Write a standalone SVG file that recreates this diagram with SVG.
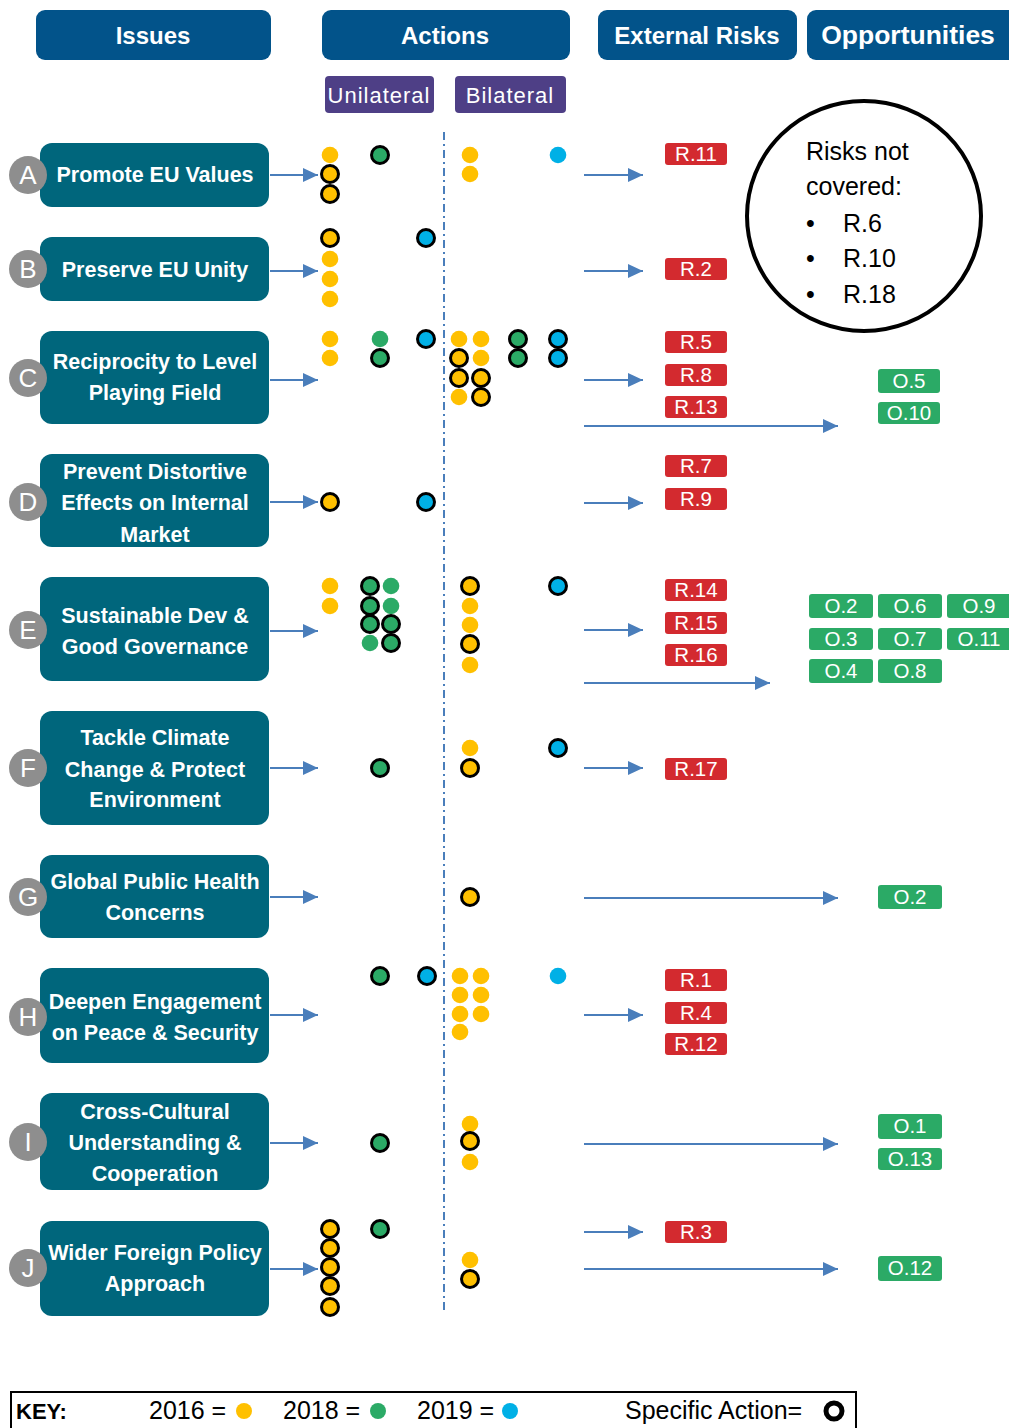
<svg xmlns="http://www.w3.org/2000/svg" width="1009" height="1428" viewBox="0 0 1009 1428">
<style>
text{font-family:"Liberation Sans",Arial,sans-serif}
.hdr{fill:#02538A}
.hdrt{fill:#fff;font-size:24px;font-weight:bold;text-anchor:middle}
.sub{fill:#4E3F86}
.subt{fill:#fff;font-size:22px;text-anchor:middle;letter-spacing:1px}
.node{fill:#00667C}
.nt{fill:#fff;font-size:21.5px;font-weight:bold;text-anchor:middle}
.lc{fill:#8E8E8E}
.lt{fill:#fff;font-size:26px;text-anchor:middle}
.conn{stroke:#4A7EBB;stroke-width:2;fill:none}
.y{fill:#FFC000}
.g{fill:#2BAA66}
.b{fill:#00B0E6}
.s{stroke:#000;stroke-width:3}
.rt{fill:#D32A2F}
.ot{fill:#2BAA66}
.tt{fill:#fff;font-size:20.5px;text-anchor:middle}
.kt{fill:#000;font-size:25px}
</style>
<defs>
<marker id="ah" markerUnits="userSpaceOnUse" markerWidth="15" markerHeight="14" refX="15" refY="7" orient="auto">
<path d="M0,0 L15,7 L0,14 z" fill="#4A7EBB"/>
</marker>
</defs>
<rect width="1009" height="1428" fill="#fff"/>

<g id="headers">
<g id="h-issues"><rect class="hdr" x="36" y="10" width="235" height="50" rx="9"/><text class="hdrt" x="153" y="44">Issues</text></g>
<g id="h-actions"><rect class="hdr" x="322" y="10" width="248" height="50" rx="9"/><text class="hdrt" x="445" y="44">Actions</text></g>
<g id="h-risks"><rect class="hdr" x="598" y="10" width="199" height="50" rx="9"/><text class="hdrt" x="697" y="44">External Risks</text></g>
<g id="h-opps"><rect class="hdr" x="807" y="10" width="212" height="50" rx="9"/><text class="hdrt" x="908" y="44" style="font-size:26.5px">Opportunities</text></g>
<g id="h-uni"><rect class="sub" x="325" y="76" width="109" height="37" rx="4"/><text class="subt" x="379" y="103">Unilateral</text></g>
<g id="h-bi"><rect class="sub" x="455" y="76" width="111" height="37" rx="4"/><text class="subt" x="510" y="103">Bilateral</text></g>
</g>

<g id="connectors">
<line class="conn" x1="444" y1="132" x2="444" y2="1313" stroke-dasharray="8 4 2 4"/>
<line class="conn" x1="270" y1="175" x2="318" y2="175" marker-end="url(#ah)"/>
<line class="conn" x1="270" y1="271" x2="318" y2="271" marker-end="url(#ah)"/>
<line class="conn" x1="270" y1="380" x2="318" y2="380" marker-end="url(#ah)"/>
<line class="conn" x1="270" y1="502" x2="318" y2="502" marker-end="url(#ah)"/>
<line class="conn" x1="270" y1="631" x2="318" y2="631" marker-end="url(#ah)"/>
<line class="conn" x1="270" y1="768" x2="318" y2="768" marker-end="url(#ah)"/>
<line class="conn" x1="270" y1="897" x2="318" y2="897" marker-end="url(#ah)"/>
<line class="conn" x1="270" y1="1015" x2="318" y2="1015" marker-end="url(#ah)"/>
<line class="conn" x1="270" y1="1143" x2="318" y2="1143" marker-end="url(#ah)"/>
<line class="conn" x1="270" y1="1269" x2="318" y2="1269" marker-end="url(#ah)"/>
<line class="conn" x1="584" y1="175" x2="643" y2="175" marker-end="url(#ah)"/>
<line class="conn" x1="584" y1="271" x2="643" y2="271" marker-end="url(#ah)"/>
<line class="conn" x1="584" y1="380" x2="643" y2="380" marker-end="url(#ah)"/>
<line class="conn" x1="584" y1="503" x2="643" y2="503" marker-end="url(#ah)"/>
<line class="conn" x1="584" y1="630" x2="643" y2="630" marker-end="url(#ah)"/>
<line class="conn" x1="584" y1="768" x2="643" y2="768" marker-end="url(#ah)"/>
<line class="conn" x1="584" y1="1015" x2="643" y2="1015" marker-end="url(#ah)"/>
<line class="conn" x1="584" y1="1232" x2="643" y2="1232" marker-end="url(#ah)"/>
<line class="conn" x1="584" y1="426" x2="838" y2="426" marker-end="url(#ah)"/>
<line class="conn" x1="584" y1="683" x2="770" y2="683" marker-end="url(#ah)"/>
<line class="conn" x1="584" y1="898" x2="838" y2="898" marker-end="url(#ah)"/>
<line class="conn" x1="584" y1="1144" x2="838" y2="1144" marker-end="url(#ah)"/>
<line class="conn" x1="584" y1="1269" x2="838" y2="1269" marker-end="url(#ah)"/>
</g>

<g id="node-A"><rect class="node" x="40" y="143" width="229" height="64" rx="12"/><text class="nt" x="155" y="182">Promote EU Values</text><circle class="lc" cx="28" cy="175" r="19"/><text class="lt" x="28" y="184">A</text></g>
<g id="node-B"><rect class="node" x="40" y="237" width="229" height="64" rx="12"/><text class="nt" x="155" y="277">Preserve EU Unity</text><circle class="lc" cx="28" cy="269" r="19"/><text class="lt" x="28" y="278">B</text></g>
<g id="node-C"><rect class="node" x="40" y="331" width="229" height="93" rx="12"/><text class="nt" x="155" y="369">Reciprocity to Level</text><text class="nt" x="155" y="400">Playing Field</text><circle class="lc" cx="28" cy="378" r="19"/><text class="lt" x="28" y="387">C</text></g>
<g id="node-D"><rect class="node" x="40" y="454" width="229" height="93" rx="12"/><text class="nt" x="155" y="479">Prevent Distortive</text><text class="nt" x="155" y="510">Effects on Internal</text><text class="nt" x="155" y="542">Market</text><circle class="lc" cx="28" cy="502" r="19"/><text class="lt" x="28" y="511">D</text></g>
<g id="node-E"><rect class="node" x="40" y="577" width="229" height="104" rx="12"/><text class="nt" x="155" y="623">Sustainable Dev &amp;</text><text class="nt" x="155" y="654">Good Governance</text><circle class="lc" cx="28" cy="630" r="19"/><text class="lt" x="28" y="639">E</text></g>
<g id="node-F"><rect class="node" x="40" y="711" width="229" height="114" rx="12"/><text class="nt" x="155" y="745">Tackle Climate</text><text class="nt" x="155" y="777">Change &amp; Protect</text><text class="nt" x="155" y="807">Environment</text><circle class="lc" cx="28" cy="768" r="19"/><text class="lt" x="28" y="777">F</text></g>
<g id="node-G"><rect class="node" x="40" y="855" width="229" height="83" rx="12"/><text class="nt" x="155" y="889">Global Public Health</text><text class="nt" x="155" y="920">Concerns</text><circle class="lc" cx="28" cy="897" r="19"/><text class="lt" x="28" y="906">G</text></g>
<g id="node-H"><rect class="node" x="40" y="968" width="229" height="95" rx="12"/><text class="nt" x="155" y="1009">Deepen Engagement</text><text class="nt" x="155" y="1040">on Peace &amp; Security</text><circle class="lc" cx="28" cy="1017" r="19"/><text class="lt" x="28" y="1026">H</text></g>
<g id="node-I"><rect class="node" x="40" y="1093" width="229" height="97" rx="12"/><text class="nt" x="155" y="1119">Cross-Cultural</text><text class="nt" x="155" y="1150">Understanding  &amp;</text><text class="nt" x="155" y="1181">Cooperation</text><circle class="lc" cx="28" cy="1142" r="19"/><text class="lt" x="28" y="1151">I</text></g>
<g id="node-J"><rect class="node" x="40" y="1221" width="229" height="95" rx="12"/><text class="nt" x="155" y="1260">Wider Foreign Policy</text><text class="nt" x="155" y="1291">Approach</text><circle class="lc" cx="28" cy="1268" r="19"/><text class="lt" x="28" y="1277">J</text></g>

<g id="dots">
<circle class="y" cx="330" cy="155" r="8.3"/><circle class="y s" cx="330" cy="174" r="8.5"/><circle class="y s" cx="330" cy="194" r="8.5"/>
<circle class="g s" cx="380" cy="155" r="8.5"/>
<circle class="y" cx="470" cy="155" r="8.3"/><circle class="y" cx="470" cy="174" r="8.3"/>
<circle class="b" cx="558" cy="155" r="8.3"/>
<circle class="y s" cx="330" cy="238" r="8.5"/><circle class="y" cx="330" cy="259" r="8.3"/><circle class="y" cx="330" cy="279" r="8.3"/><circle class="y" cx="330" cy="299" r="8.3"/>
<circle class="b s" cx="426" cy="238" r="8.5"/>
<circle class="y" cx="330" cy="339" r="8.3"/><circle class="y" cx="330" cy="358" r="8.3"/>
<circle class="g" cx="380" cy="339" r="8.3"/><circle class="g s" cx="380" cy="358" r="8.5"/>
<circle class="b s" cx="426" cy="339" r="8.5"/>
<circle class="y" cx="459" cy="339" r="8.3"/><circle class="y" cx="481" cy="339" r="8.3"/>
<circle class="y s" cx="459" cy="358" r="8.5"/><circle class="y" cx="481" cy="358" r="8.3"/>
<circle class="y s" cx="459" cy="378" r="8.5"/><circle class="y s" cx="481" cy="378" r="8.5"/>
<circle class="y" cx="459" cy="397" r="8.3"/><circle class="y s" cx="481" cy="397" r="8.5"/>
<circle class="g s" cx="518" cy="339" r="8.5"/><circle class="g s" cx="518" cy="358" r="8.5"/>
<circle class="b s" cx="558" cy="339" r="8.5"/><circle class="b s" cx="558" cy="358" r="8.5"/>
<circle class="y s" cx="330" cy="502" r="8.5"/><circle class="b s" cx="426" cy="502" r="8.5"/>
<circle class="y" cx="330" cy="586" r="8.3"/><circle class="y" cx="330" cy="606" r="8.3"/>
<circle class="g s" cx="370" cy="586" r="8.5"/><circle class="g" cx="391" cy="586" r="8.3"/>
<circle class="g s" cx="370" cy="606" r="8.5"/><circle class="g" cx="391" cy="606" r="8.3"/>
<circle class="g s" cx="370" cy="624" r="8.5"/><circle class="g s" cx="391" cy="624" r="8.5"/>
<circle class="g" cx="370" cy="643" r="8.3"/><circle class="g s" cx="391" cy="643" r="8.5"/>
<circle class="y s" cx="470" cy="586" r="8.5"/><circle class="y" cx="470" cy="606" r="8.3"/><circle class="y" cx="470" cy="625" r="8.3"/><circle class="y s" cx="470" cy="644" r="8.5"/><circle class="y" cx="470" cy="665" r="8.3"/>
<circle class="b s" cx="558" cy="586" r="8.5"/>
<circle class="g s" cx="380" cy="768" r="8.5"/>
<circle class="y" cx="470" cy="748" r="8.3"/><circle class="y s" cx="470" cy="768" r="8.5"/>
<circle class="b s" cx="558" cy="748" r="8.5"/>
<circle class="y s" cx="470" cy="897" r="8.5"/>
<circle class="g s" cx="380" cy="976" r="8.5"/><circle class="b s" cx="427" cy="976" r="8.5"/>
<circle class="y" cx="460" cy="976" r="8.3"/><circle class="y" cx="481" cy="976" r="8.3"/>
<circle class="y" cx="460" cy="995" r="8.3"/><circle class="y" cx="481" cy="995" r="8.3"/>
<circle class="y" cx="460" cy="1014" r="8.3"/><circle class="y" cx="481" cy="1014" r="8.3"/>
<circle class="y" cx="460" cy="1032" r="8.3"/>
<circle class="b" cx="558" cy="976" r="8.3"/>
<circle class="g s" cx="380" cy="1143" r="8.5"/>
<circle class="y" cx="470" cy="1124" r="8.3"/><circle class="y s" cx="470" cy="1141" r="8.5"/><circle class="y" cx="470" cy="1162" r="8.3"/>
<circle class="y s" cx="330" cy="1229" r="8.5"/><circle class="y s" cx="330" cy="1248" r="8.5"/><circle class="y s" cx="330" cy="1267" r="8.5"/><circle class="y s" cx="330" cy="1286" r="8.5"/><circle class="y s" cx="330" cy="1307" r="8.5"/>
<circle class="g s" cx="380" cy="1229" r="8.5"/>
<circle class="y" cx="470" cy="1260" r="8.3"/><circle class="y s" cx="470" cy="1279" r="8.5"/>
</g>

<g id="risks">
<g><rect class="rt" x="665" y="143" width="62" height="22" rx="3"/><text class="tt" x="696" y="161">R.11</text></g>
<g><rect class="rt" x="665" y="258" width="62" height="22" rx="3"/><text class="tt" x="696" y="276">R.2</text></g>
<g><rect class="rt" x="665" y="331" width="62" height="22" rx="3"/><text class="tt" x="696" y="349">R.5</text></g>
<g><rect class="rt" x="665" y="364" width="62" height="22" rx="3"/><text class="tt" x="696" y="382">R.8</text></g>
<g><rect class="rt" x="665" y="396" width="62" height="22" rx="3"/><text class="tt" x="696" y="414">R.13</text></g>
<g><rect class="rt" x="665" y="455" width="62" height="22" rx="3"/><text class="tt" x="696" y="473">R.7</text></g>
<g><rect class="rt" x="665" y="488" width="62" height="22" rx="3"/><text class="tt" x="696" y="506">R.9</text></g>
<g><rect class="rt" x="665" y="579" width="62" height="22" rx="3"/><text class="tt" x="696" y="597">R.14</text></g>
<g><rect class="rt" x="665" y="612" width="62" height="22" rx="3"/><text class="tt" x="696" y="630">R.15</text></g>
<g><rect class="rt" x="665" y="644" width="62" height="22" rx="3"/><text class="tt" x="696" y="662">R.16</text></g>
<g><rect class="rt" x="665" y="758" width="62" height="22" rx="3"/><text class="tt" x="696" y="776">R.17</text></g>
<g><rect class="rt" x="665" y="969" width="62" height="22" rx="3"/><text class="tt" x="696" y="987">R.1</text></g>
<g><rect class="rt" x="665" y="1002" width="62" height="22" rx="3"/><text class="tt" x="696" y="1020">R.4</text></g>
<g><rect class="rt" x="665" y="1033" width="62" height="22" rx="3"/><text class="tt" x="696" y="1051">R.12</text></g>
<g><rect class="rt" x="665" y="1221" width="62" height="22" rx="3"/><text class="tt" x="696" y="1239">R.3</text></g>
</g>

<g id="opportunities">
<g><rect class="ot" x="878" y="369" width="62" height="24" rx="3"/><text class="tt" x="909" y="388">O.5</text></g>
<g><rect class="ot" x="878" y="402" width="62" height="22" rx="3"/><text class="tt" x="909" y="420">O.10</text></g>
<g><rect class="ot" x="809" y="594" width="64" height="24" rx="3"/><text class="tt" x="841" y="613">O.2</text></g>
<g><rect class="ot" x="878" y="594" width="64" height="24" rx="3"/><text class="tt" x="910" y="613">O.6</text></g>
<g><rect class="ot" x="947" y="594" width="64" height="24" rx="3"/><text class="tt" x="979" y="613">O.9</text></g>
<g><rect class="ot" x="809" y="628" width="64" height="22" rx="3"/><text class="tt" x="841" y="646">O.3</text></g>
<g><rect class="ot" x="878" y="628" width="64" height="22" rx="3"/><text class="tt" x="910" y="646">O.7</text></g>
<g><rect class="ot" x="947" y="628" width="64" height="22" rx="3"/><text class="tt" x="979" y="646">O.11</text></g>
<g><rect class="ot" x="809" y="659" width="64" height="24" rx="3"/><text class="tt" x="841" y="678">O.4</text></g>
<g><rect class="ot" x="878" y="659" width="64" height="24" rx="3"/><text class="tt" x="910" y="678">O.8</text></g>
<g><rect class="ot" x="878" y="885" width="64" height="24" rx="3"/><text class="tt" x="910" y="904">O.2</text></g>
<g><rect class="ot" x="878" y="1114" width="64" height="25" rx="3"/><text class="tt" x="910" y="1133">O.1</text></g>
<g><rect class="ot" x="878" y="1148" width="64" height="22" rx="3"/><text class="tt" x="910" y="1166">O.13</text></g>
<g><rect class="ot" x="878" y="1256" width="64" height="25" rx="3"/><text class="tt" x="910" y="1275">O.12</text></g>
</g>

<g id="not-covered">
<ellipse cx="864" cy="216" rx="117" ry="115" fill="#fff" stroke="#000" stroke-width="4"/>
<text class="kt" x="806" y="160">Risks not</text>
<text class="kt" x="806" y="195">covered:</text>
<text class="kt" x="806" y="232">•</text><text class="kt" x="843" y="232">R.6</text>
<text class="kt" x="806" y="267">•</text><text class="kt" x="843" y="267">R.10</text>
<text class="kt" x="806" y="303">•</text><text class="kt" x="843" y="303">R.18</text>
</g>

<g id="key">
<rect x="11" y="1392" width="845" height="40" fill="#fff" stroke="#000" stroke-width="2"/>
<text class="kt" x="16" y="1419" style="font-weight:bold;font-size:22px">KEY:</text>
<text class="kt" x="149" y="1419">2016 =</text><circle class="y" cx="244" cy="1411" r="8"/>
<text class="kt" x="283" y="1419">2018 =</text><circle class="g" cx="378" cy="1411" r="8"/>
<text class="kt" x="417" y="1419">2019 =</text><circle class="b" cx="510" cy="1411" r="8"/>
<text class="kt" x="625" y="1419">Specific Action=</text><circle cx="834" cy="1411" r="8" fill="#fff" stroke="#000" stroke-width="5"/>
</g>
</svg>
